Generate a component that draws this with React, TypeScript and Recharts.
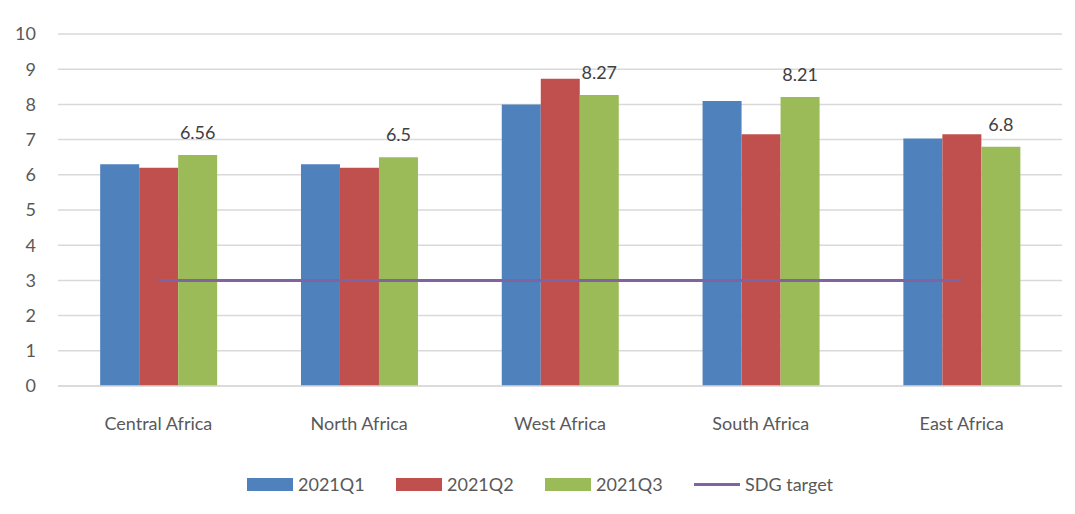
import { ComposedChart, Bar, Line, XAxis, YAxis, CartesianGrid, Legend, LabelList } from 'recharts'

const regions = ['Central Africa', 'North Africa', 'West Africa', 'South Africa', 'East Africa']
const q1 = [6.3, 6.3, 8.0, 8.1, 7.03]
const q2 = [6.2, 6.2, 8.73, 7.15, 7.15]
const q3 = [6.56, 6.5, 8.27, 8.21, 6.8]
const sdgTarget = [3, 3, 3, 3, 3]
const yTicks = [0, 1, 2, 3, 4, 5, 6, 7, 8, 9, 10]

const COLORS = {
  q1: '#4f81bd',
  q2: '#c0504d',
  q3: '#9bbb59',
  sdg: '#8064a2',
}

const FONT = 'Lato, "Open Sans", sans-serif'
const TEXT = '#595959'

const data = regions.map((region, i) => ({
  region,
  q1: q1[i],
  q2: q2[i],
  q3: q3[i],
  sdg: sdgTarget[i],
}))

const legendItems = [
  { key: 'q1', label: '2021Q1', color: COLORS.q1, kind: 'box' },
  { key: 'q2', label: '2021Q2', color: COLORS.q2, kind: 'box' },
  { key: 'q3', label: '2021Q3', color: COLORS.q3, kind: 'box' },
  { key: 'sdg', label: 'SDG target', color: COLORS.sdg, kind: 'line' },
]

function ChartLegend() {
  return (
    <div style={{ display: 'flex', alignItems: 'center', height: 24, paddingLeft: 247, fontFamily: FONT, fontSize: 18, color: TEXT }}>
      {legendItems.map(item => (
        <div key={item.key} style={{ display: 'flex', alignItems: 'center', width: item.kind === 'box' ? 149 : 'auto' }}>
          {item.kind === 'box' ? (
            <span style={{ display: 'inline-block', width: 46, height: 13, background: item.color }} />
          ) : (
            <span style={{ display: 'inline-block', width: 46, height: 3, background: item.color }} />
          )}
          <span style={{ marginLeft: 5 }}>{item.label}</span>
        </div>
      ))}
    </div>
  )
}

export default function App() {
  return (
    <div style={{ position: 'absolute', left: 0, top: 0, width: 1075, height: 514, background: '#fff' }}>
      <ComposedChart
        width={1075}
        height={514}
        data={data}
        margin={{ top: 34, right: 13, bottom: 18, left: 0 }}
        barCategoryGap="21%"
        barGap={0}
      >
        <CartesianGrid vertical={false} stroke="#d9d9d9" strokeWidth={1.5} />
        <XAxis
          dataKey="region"
          axisLine={{ stroke: '#d9d9d9', strokeWidth: 1.5 }}
          tickLine={false}
          tickSize={0}
          tickMargin={31}
          height={86}
          tick={{ fontSize: 18, fill: TEXT, fontFamily: FONT }}
        />
        <YAxis
          domain={[0, 10]}
          ticks={yTicks}
          axisLine={false}
          tickLine={false}
          tickSize={0}
          tickMargin={22}
          width={58}
          tick={{ fontSize: 18, fill: TEXT, fontFamily: FONT }}
        />
        <Legend verticalAlign="bottom" content={() => <ChartLegend />} />
        <Bar dataKey="q1" name="2021Q1" fill={COLORS.q1} isAnimationActive={false} />
        <Bar dataKey="q2" name="2021Q2" fill={COLORS.q2} isAnimationActive={false} />
        <Bar dataKey="q3" name="2021Q3" fill={COLORS.q3} isAnimationActive={false}>
          <LabelList dataKey="q3" position="top" offset={16} style={{ fontSize: 18, fill: '#404040', fontFamily: FONT }} />
        </Bar>
        <Line
          dataKey="sdg"
          name="SDG target"
          stroke={COLORS.sdg}
          strokeWidth={3}
          dot={false}
          activeDot={false}
          isAnimationActive={false}
        />
      </ComposedChart>
    </div>
  )
}
